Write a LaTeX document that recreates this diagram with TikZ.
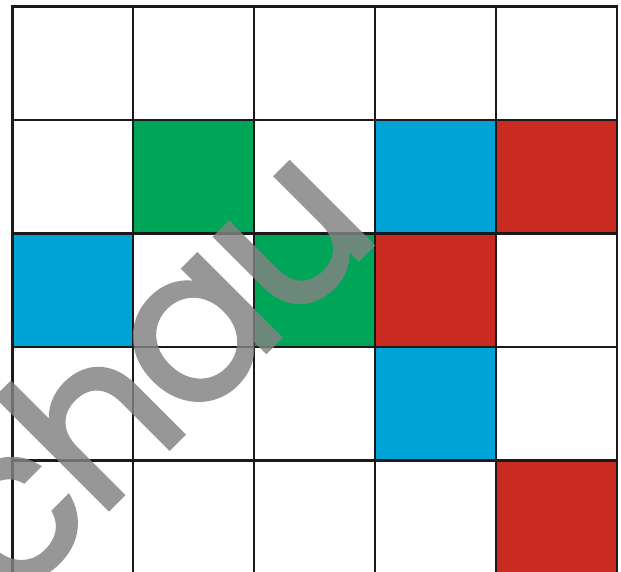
\documentclass[tikz,border=0pt]{standalone}
\usepackage{fontspec}
\newfontfamily\wmfont[FakeBold=1.8,LetterSpace=-3]{Poppins}
\definecolor{cgreen}{RGB}{0,166,88}
\definecolor{cblue}{RGB}{0,163,214}
\definecolor{cred}{RGB}{201,43,32}
\definecolor{wmgray}{RGB}{130,130,130}
\definecolor{gridc}{RGB}{26,26,26}
\begin{document}
\begin{tikzpicture}[x=1pt,y=-1pt,
  gridline/.style={draw=gridc,line width=2.4pt},
  watermark/.style={text=wmgray,font=\wmfont\fontsize{214}{214}\selectfont,rotate=45,inner sep=0pt}]
\clip (0,0) rectangle (621,571);
\fill[white] (0,0) rectangle (621,571);
\def\xs{120.9}\def\ys{113.5}\def\xo{12.3}\def\yo{6.3}
% colored cells: (col,row) 0-based
\foreach \c/\r/\col in {1/1/cgreen,3/1/cblue,4/1/cred,0/2/cblue,2/2/cgreen,3/2/cred,3/3/cblue,4/4/cred}{
  \fill[\col] ({\xo+\c*\xs},{\yo+\r*\ys}) rectangle ({\xo+(\c+1)*\xs},{\yo+(\r+1)*\ys});
}
\foreach \i in {0,...,5}{
  \draw[gridline] ({\xo+\i*\xs},{\yo-1.2}) -- ({\xo+\i*\xs},580);
}
\foreach \j in {0,...,4}{
  \draw[gridline] ({\xo-1.2},{\yo+\j*\ys}) -- ({\xo+5*\xs+1.2},{\yo+\j*\ys});
}
\begin{scope}[transparency group,opacity=0.83]
\node[watermark,anchor=base] (wm) at (197,421) {chau};
\end{scope}
\end{tikzpicture}
\end{document}
